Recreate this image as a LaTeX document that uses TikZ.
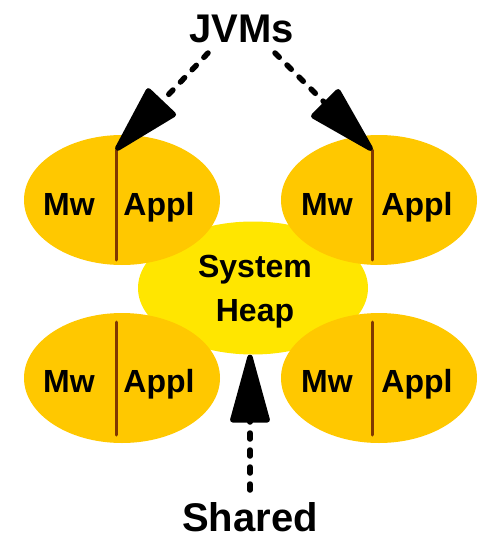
\documentclass[tikz,border=0pt]{standalone}
\usepackage{fontspec}
\setmainfont{Liberation Sans}
\usetikzlibrary{arrows.meta,shapes.geometric}
\definecolor{jvmfill}{RGB}{255,200,0}
\definecolor{heapfill}{RGB}{255,230,0}
\definecolor{divider}{RGB}{128,56,0}
\begin{document}
\begin{tikzpicture}[x=1pt,y=-1pt,
  jvmbox/.style={ellipse, fill=jvmfill, minimum width=196pt, minimum height=130pt, inner sep=0pt},
  heapbox/.style={ellipse, fill=heapfill, minimum width=230pt, minimum height=133pt, inner sep=0pt},
  lbl/.style={font=\fontsize{32}{36}\selectfont\bfseries, anchor=base, inner sep=0pt},
  bigtext/.style={font=\fontsize{40}{44}\selectfont\bfseries, anchor=base, inner sep=0pt},
  heaptext/.style={font=\fontsize{32}{44}\selectfont\bfseries, align=center, inner sep=0pt},
  divline/.style={draw=divider, line width=3pt, line cap=round},
  flow/.style={line width=5.5pt, line cap=round, dash pattern=on 6pt off 11pt,
    -{Triangle[length=76pt,width=40pt,round]}}
]
\useasboundingbox (0,0) rectangle (480,538);
% shared heap
\node[heapbox] (heap) at (253,288) {};
% JVM ellipses
\node[jvmbox] (tl) at (122,200) {};
\node[jvmbox] (tr) at (379,200) {};
\node[jvmbox] (bl) at (122,378) {};
\node[jvmbox] (br) at (379,378) {};
% dividers
\coordinate (tltop) at ([shift={(-6,-50)}]tl.center);
\coordinate (tlbot) at ([shift={(-6,60)}]tl.center);
\coordinate (trtop) at ([shift={(-7,-50)}]tr.center);
\coordinate (trbot) at ([shift={(-7,60)}]tr.center);
\coordinate (bltop) at ([shift={(-6,-56)}]bl.center);
\coordinate (blbot) at ([shift={(-6,57)}]bl.center);
\coordinate (brtop) at ([shift={(-7,-56)}]br.center);
\coordinate (brbot) at ([shift={(-7,57)}]br.center);
\draw[divline] (tltop) -- (tlbot);
\draw[divline] (trtop) -- (trbot);
\draw[divline] (bltop) -- (blbot);
\draw[divline] (brtop) -- (brbot);
% labels
\node[lbl] (tlmw) at (69,215) {Mw};
\node[lbl] (tlap) at (159,215) {Appl};
\node[lbl] (trmw) at (327,215) {Mw};
\node[lbl] (trap) at (417,215) {Appl};
\node[lbl] (blmw) at (69,392) {Mw};
\node[lbl] (blap) at (159,392) {Appl};
\node[lbl] (brmw) at (327,392) {Mw};
\node[lbl] (brap) at (417,392) {Appl};
\node[heaptext] (heaplbl) at (255,292) {System\\Heap};
\node[bigtext] (jvms) at (242,42) {JVMs};
\node[bigtext] (shared) at (250,531) {Shared};
% arrows
\draw[flow] ([shift={(-34,11)}]jvms.base) -- (tltop);
\draw[flow] ([shift={(33,11)}]jvms.base) -- (trtop);
\draw[flow] ([shift={(0,-41)}]shared.base) -- (shared |- heap.south);
\end{tikzpicture}
\end{document}
